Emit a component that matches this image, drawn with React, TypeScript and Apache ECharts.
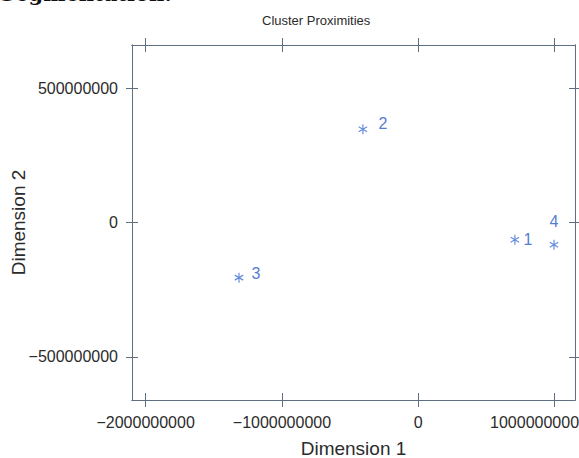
import React, { useEffect, useRef } from "react";
import * as echarts from "echarts";

const clusterNames = ["1", "2", "3", "4"];
const dimension1 = [709000000, -406000000, -1315000000, 996000000];
const dimension2 = [-64000000, 347000000, -205000000, -83000000];
const xTicks = [-2000000000, -1000000000, 0, 1000000000];
const yTicks = [-500000000, 0, 500000000];

const ASTERISK =
  "path://M-0.12,-1 L0.12,-1 L0.12,1 L-0.12,1 Z " +
  "M-0.926,-0.396 L-0.806,-0.604 L0.926,0.396 L0.806,0.604 Z " +
  "M0.806,-0.604 L0.926,-0.396 L-0.806,0.604 L-0.926,0.396 Z";

const labelPlacement: Record<string, any> = {
  "1": { position: "right", distance: 4, offset: [0, 0] },
  "2": { position: "right", distance: 11, offset: [0, -6] },
  "3": { position: "right", distance: 8, offset: [0, -4] },
  "4": { position: "top", distance: 10, offset: [0, 0] },
};

export default function App() {
  const ref = useRef<HTMLDivElement>(null);
  useEffect(() => {
    if (!ref.current) return;
    const chart = echarts.init(ref.current, undefined, { renderer: "svg" });
    const axisColor = "#5f6f80";
    const font = "Liberation Sans";
    const xMin = -2100000000;
    const xMax = 1150000000;
    const yMin = -660000000;
    const yMax = 660000000;
    const fmt = (v: number) => (v < 0 ? "\u2212" + String(-v) : String(v));
    const fmtX = (v: number) => (v === xTicks[xTicks.length - 1] ? "{last|" + fmt(v) + "}" : fmt(v));
    const mkX = (position: string, inside: boolean, main: boolean) => ({
      type: "value",
      position,
      min: xMin,
      max: xMax,
      splitLine: { show: false },
      axisLine: { show: true, onZero: false, lineStyle: { color: axisColor, width: 1 } },
      axisTick: { show: true, inside, length: 7, customValues: xTicks, lineStyle: { color: axisColor } },
      axisLabel: main
        ? {
            show: true,
            customValues: xTicks,
            margin: 14,
            color: "#2b2b2b",
            fontFamily: font,
            fontSize: 16,
            formatter: fmtX,
            rich: {
              last: { color: "#2b2b2b", fontFamily: font, fontSize: 16, padding: [0, 40, 0, 0] },
            },
          }
        : { show: false },
      name: main ? "Dimension 1" : "",
      nameLocation: "middle",
      nameGap: 39,
      nameMoveOverlap: false,
      nameTextStyle: { color: "#2b2b2b", fontFamily: font, fontSize: 19 },
    });
    const mkY = (position: string, inside: boolean, main: boolean) => ({
      type: "value",
      position,
      min: yMin,
      max: yMax,
      splitLine: { show: false },
      axisLine: { show: true, onZero: false, lineStyle: { color: axisColor, width: 1 } },
      axisTick: { show: true, inside, length: 6, customValues: yTicks, lineStyle: { color: axisColor } },
      axisLabel: main
        ? { show: true, customValues: yTicks, margin: 14, color: "#2b2b2b", fontFamily: font, fontSize: 16, formatter: fmt }
        : { show: false },
      name: main ? "Dimension 2" : "",
      nameLocation: "middle",
      nameGap: 104,
      nameMoveOverlap: false,
      nameTextStyle: { color: "#2b2b2b", fontFamily: font, fontSize: 19 },
    });
    chart.setOption({
      animation: false,
      backgroundColor: "#ffffff",
      title: {
        text: "Cluster Proximities",
        left: 257,
        top: 9,
        textStyle: { color: "#2b2b2b", fontFamily: font, fontSize: 13, fontWeight: "normal" },
      },
      graphic: [
        {
          type: "text",
          left: 0,
          top: -17,
          style: { text: "Segmentation:", font: "bold 21px 'DejaVu Serif'", fill: "#111" },
        },
      ],
      grid: { left: 132, right: 4, top: 45, bottom: 58, containLabel: false, outerBoundsMode: "none" },
      xAxis: [mkX("bottom", false, true), mkX("bottom", true, false), mkX("top", false, false), mkX("top", true, false)],
      yAxis: [mkY("left", false, true), mkY("left", true, false), mkY("right", false, false), mkY("right", true, false)],
      series: [
        {
          type: "scatter",
          xAxisIndex: 0,
          yAxisIndex: 0,
          symbol: ASTERISK,
          symbolSize: [9, 10],
          itemStyle: { color: "#3d6fd6" },
          label: { show: true, formatter: "{b}", color: "#2458c6", fontFamily: font, fontSize: 16 },
          data: clusterNames.map((n, i) => ({
            name: n,
            value: [dimension1[i], dimension2[i]],
            label: labelPlacement[n],
          })),
        },
      ],
    });
    return () => chart.dispose();
  }, []);
  return <div ref={ref} style={{ width: 579, height: 458, position: "absolute", left: 0, top: 0 }} />;
}
